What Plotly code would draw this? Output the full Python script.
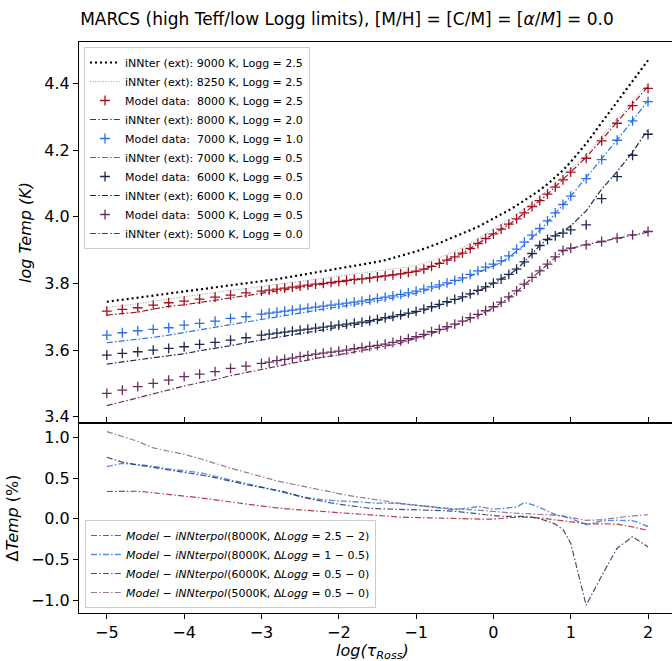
import plotly.graph_objects as go

TAU = [-5.0, -4.8, -4.6, -4.4, -4.2, -4.0, -3.8, -3.6, -3.4, -3.2, -3.0,
       -2.9, -2.8, -2.7, -2.6, -2.5, -2.4, -2.3, -2.2, -2.1, -2.0,
       -1.9, -1.8, -1.7, -1.6, -1.5, -1.4, -1.3, -1.2, -1.1, -1.0,
       -0.9, -0.8, -0.7, -0.6, -0.5, -0.4, -0.3, -0.2, -0.1, 0.0,
       0.1, 0.2, 0.3, 0.4, 0.5, 0.6, 0.7, 0.8, 0.9, 1.0,
       1.2, 1.4, 1.6, 1.8, 2.0]

INN_9000_25 = [3.745, 3.751, 3.757, 3.763, 3.769, 3.775, 3.781, 3.787, 3.793, 3.799, 3.806,
               3.810, 3.813, 3.817, 3.821, 3.825, 3.828, 3.832, 3.836, 3.840, 3.843,
               3.847, 3.851, 3.855, 3.860, 3.865, 3.870, 3.876, 3.882, 3.889, 3.896,
               3.904, 3.912, 3.921, 3.931, 3.940, 3.950, 3.960, 3.970, 3.982, 3.994,
               4.007, 4.020, 4.034, 4.049, 4.064, 4.080, 4.098, 4.118, 4.140, 4.165,
               4.220, 4.283, 4.346, 4.408, 4.470]
INN_8250_25 = [3.728, 3.733, 3.739, 3.747, 3.754, 3.760, 3.766, 3.773, 3.779, 3.786, 3.791,
               3.794, 3.797, 3.800, 3.804, 3.807, 3.810, 3.813, 3.815, 3.818, 3.821,
               3.824, 3.827, 3.830, 3.833, 3.836, 3.839, 3.842, 3.846, 3.850, 3.854,
               3.860, 3.868, 3.877, 3.887, 3.897, 3.908, 3.921, 3.936, 3.951, 3.964,
               3.978, 3.992, 4.008, 4.025, 4.043, 4.061, 4.080, 4.100, 4.121, 4.144,
               4.188, 4.240, 4.294, 4.348, 4.401]
MOD_8000_25 = [3.717, 3.722, 3.727, 3.735, 3.742, 3.747, 3.753, 3.759, 3.765, 3.772, 3.777,
               3.780, 3.783, 3.786, 3.789, 3.792, 3.795, 3.798, 3.800, 3.803, 3.806,
               3.809, 3.812, 3.814, 3.817, 3.820, 3.823, 3.826, 3.829, 3.833, 3.837,
               3.843, 3.851, 3.860, 3.870, 3.880, 3.891, 3.905, 3.920, 3.935, 3.949,
               3.963, 3.978, 3.994, 4.012, 4.031, 4.049, 4.068, 4.089, 4.111, 4.134,
               4.176, 4.228, 4.281, 4.334, 4.386]
INN_8000_20 = [3.705, 3.709, 3.714, 3.723, 3.731, 3.736, 3.743, 3.750, 3.757, 3.765, 3.771,
               3.775, 3.778, 3.781, 3.785, 3.788, 3.791, 3.794, 3.797, 3.800, 3.803,
               3.806, 3.810, 3.812, 3.815, 3.819, 3.822, 3.825, 3.828, 3.832, 3.836,
               3.842, 3.851, 3.860, 3.870, 3.880, 3.891, 3.905, 3.920, 3.935, 3.949,
               3.963, 3.977, 3.993, 4.011, 4.030, 4.049, 4.068, 4.090, 4.112, 4.135,
               4.179, 4.231, 4.284, 4.338, 4.392]
MOD_7000_10 = [3.645, 3.652, 3.658, 3.662, 3.667, 3.675, 3.680, 3.687, 3.695, 3.700, 3.708,
               3.711, 3.714, 3.717, 3.720, 3.723, 3.726, 3.729, 3.732, 3.735, 3.738,
               3.741, 3.744, 3.747, 3.751, 3.755, 3.759, 3.763, 3.767, 3.772, 3.777,
               3.783, 3.790, 3.796, 3.802, 3.809, 3.817, 3.827, 3.838, 3.849, 3.858,
               3.868, 3.883, 3.903, 3.924, 3.945, 3.965, 3.988, 4.012, 4.037, 4.062,
               4.115, 4.172, 4.230, 4.288, 4.346]
INN_7000_05 = [3.622, 3.627, 3.634, 3.638, 3.645, 3.653, 3.659, 3.668, 3.677, 3.684, 3.693,
               3.697, 3.701, 3.705, 3.709, 3.713, 3.716, 3.720, 3.723, 3.727, 3.730,
               3.733, 3.736, 3.740, 3.744, 3.748, 3.752, 3.756, 3.760, 3.765, 3.771,
               3.777, 3.785, 3.791, 3.797, 3.805, 3.812, 3.822, 3.832, 3.844, 3.853,
               3.863, 3.878, 3.897, 3.916, 3.938, 3.959, 3.984, 4.010, 4.036, 4.062,
               4.118, 4.173, 4.231, 4.289, 4.350]
MOD_6000_05 = [3.585, 3.590, 3.595, 3.600, 3.605, 3.610, 3.617, 3.623, 3.630, 3.637, 3.645,
               3.648, 3.651, 3.654, 3.657, 3.660, 3.663, 3.666, 3.669, 3.672, 3.675,
               3.678, 3.681, 3.684, 3.688, 3.692, 3.697, 3.701, 3.706, 3.711, 3.716,
               3.723, 3.730, 3.737, 3.745, 3.752, 3.760, 3.769, 3.779, 3.790, 3.801,
               3.813, 3.827, 3.843, 3.865, 3.890, 3.914, 3.932, 3.943, 3.951, 3.961,
               3.976, 4.055, 4.121, 4.185, 4.248]
INN_6000_00 = [3.558, 3.565, 3.571, 3.577, 3.583, 3.589, 3.598, 3.605, 3.613, 3.622, 3.631,
               3.635, 3.638, 3.642, 3.646, 3.650, 3.654, 3.658, 3.661, 3.665, 3.668,
               3.672, 3.676, 3.679, 3.683, 3.687, 3.692, 3.697, 3.702, 3.707, 3.712,
               3.719, 3.726, 3.733, 3.741, 3.749, 3.757, 3.766, 3.777, 3.788, 3.800,
               3.812, 3.826, 3.842, 3.864, 3.889, 3.914, 3.933, 3.946, 3.956, 3.973,
               4.018, 4.083, 4.136, 4.194, 4.263]
MOD_5000_05 = [3.470, 3.480, 3.490, 3.500, 3.510, 3.520, 3.528, 3.535, 3.545, 3.552, 3.560,
               3.564, 3.568, 3.572, 3.576, 3.580, 3.584, 3.588, 3.591, 3.594, 3.597,
               3.600, 3.604, 3.607, 3.611, 3.614, 3.618, 3.623, 3.628, 3.634, 3.640,
               3.647, 3.655, 3.662, 3.670, 3.678, 3.687, 3.697, 3.707, 3.718, 3.730,
               3.744, 3.760, 3.778, 3.798, 3.818, 3.838, 3.858, 3.880, 3.899, 3.906,
               3.916, 3.926, 3.936, 3.946, 3.956]
INN_5000_00 = [3.433, 3.445, 3.457, 3.470, 3.481, 3.492, 3.502, 3.511, 3.523, 3.532, 3.542,
               3.547, 3.551, 3.556, 3.561, 3.565, 3.570, 3.575, 3.578, 3.582, 3.586,
               3.590, 3.594, 3.598, 3.602, 3.606, 3.610, 3.616, 3.621, 3.628, 3.634,
               3.641, 3.650, 3.657, 3.665, 3.674, 3.683, 3.693, 3.703, 3.714, 3.727,
               3.741, 3.757, 3.775, 3.796, 3.816, 3.836, 3.856, 3.878, 3.898, 3.905,
               3.917, 3.926, 3.935, 3.945, 3.954]

DIFF_8000_A = [0.335, 0.340, 0.338, 0.320, 0.302, 0.282, 0.258, 0.232, 0.205, 0.178, 0.155,
               0.145, 0.135, 0.122, 0.115, 0.110, 0.103, 0.097, 0.091, 0.085, 0.077,
               0.068, 0.060, 0.050, 0.044, 0.038, 0.032, 0.026, 0.021, 0.018, 0.015,
               0.012, 0.010, 0.008, 0.006, 0.004, 0.001, -0.002, -0.004, -0.005, -0.004,
               0.005, 0.015, 0.020, 0.021, 0.020, 0.012, 0.000, -0.013, -0.022, -0.035,
               -0.060, -0.062, -0.065, -0.100, -0.143]
DIFF_8000_B = [0.640, 0.680, 0.665, 0.645, 0.610, 0.590, 0.567, 0.520, 0.477, 0.437, 0.395,
               0.370, 0.345, 0.318, 0.292, 0.275, 0.258, 0.244, 0.232, 0.226, 0.220,
               0.215, 0.210, 0.200, 0.192, 0.192, 0.195, 0.193, 0.190, 0.180, 0.168,
               0.155, 0.140, 0.130, 0.122, 0.112, 0.120, 0.135, 0.150, 0.135, 0.118,
               0.125, 0.138, 0.145, 0.198, 0.175, 0.140, 0.095, 0.050, 0.030, 0.005,
               -0.073, -0.025, -0.018, -0.022, -0.094]
DIFF_6000 = [0.755, 0.695, 0.660, 0.630, 0.605, 0.575, 0.540, 0.505, 0.460, 0.420, 0.385,
             0.370, 0.350, 0.330, 0.300, 0.275, 0.250, 0.230, 0.210, 0.195, 0.180,
             0.165, 0.150, 0.135, 0.128, 0.124, 0.122, 0.120, 0.118, 0.116, 0.113,
             0.110, 0.106, 0.102, 0.098, 0.092, 0.084, 0.074, 0.062, 0.050, 0.038,
             0.032, 0.030, 0.030, 0.029, 0.020, 0.000, -0.030, -0.065, -0.130, -0.300,
             -1.060, -0.700, -0.360, -0.220, -0.345]
DIFF_5000 = [1.070, 1.010, 0.950, 0.870, 0.830, 0.790, 0.740, 0.680, 0.620, 0.570, 0.515,
             0.492, 0.465, 0.445, 0.425, 0.408, 0.390, 0.370, 0.350, 0.330, 0.310,
             0.290, 0.275, 0.260, 0.245, 0.230, 0.218, 0.205, 0.190, 0.175, 0.165,
             0.155, 0.145, 0.135, 0.128, 0.122, 0.117, 0.112, 0.110, 0.100, 0.090,
             0.080, 0.072, 0.068, 0.064, 0.060, 0.055, 0.050, 0.045, 0.035, 0.015,
             -0.020, -0.010, 0.015, 0.035, 0.050]

TOP_NAMES = ["iNNter (ext): 9000 K, Logg = 2.5",
             "iNNter (ext): 8250 K, Logg = 2.5",
             "Model data:\u00a0 8000 K, Logg = 2.5",
             "iNNter (ext): 8000 K, Logg = 2.0",
             "Model data:\u00a0 7000 K, Logg = 1.0",
             "iNNter (ext): 7000 K, Logg = 0.5",
             "Model data:\u00a0 6000 K, Logg = 0.5",
             "iNNter (ext): 6000 K, Logg = 0.0",
             "Model data:\u00a0 5000 K, Logg = 0.5",
             "iNNter (ext): 5000 K, Logg = 0.0"]
BOT_NAMES = ["<i>Model</i> \u2212 <i>iNNterpol</i>(8000K, \u0394<i>Logg</i> = 2.5 \u2212 2)",
             "<i>Model</i> \u2212 <i>iNNterpol</i>(8000K, \u0394<i>Logg</i> = 1 \u2212 0.5)",
             "<i>Model</i> \u2212 <i>iNNterpol</i>(6000K, \u0394<i>Logg</i> = 0.5 \u2212 0)",
             "<i>Model</i> \u2212 <i>iNNterpol</i>(5000K, \u0394<i>Logg</i> = 0.5 \u2212 0)"]
X_TITLE = "<i>log(\u03c4<sub>Ross</sub>)</i>"

RED = "#a50f1e"
BLUE = "#2a6fe8"
NAVY = "#1b2a4c"
PURPLE = "#6b2b5c"
DASHDOT = "6px,2.2px,1.5px,2.2px"

fig = go.Figure()

def line(y, name, color, dash, width, legend="legend", yaxis="y2", xaxis="x2", opacity=1.0):
    fig.add_trace(go.Scatter(x=TAU, y=y, name=name, mode="lines", xaxis=xaxis, yaxis=yaxis,
                             legend=legend, opacity=opacity,
                             line=dict(color=color, dash=dash, width=width)))

def marks(y, name, color):
    fig.add_trace(go.Scatter(x=TAU, y=y, name=name, mode="markers", xaxis="x2", yaxis="y2",
                             legend="legend",
                             marker=dict(symbol="cross-thin", size=7, color=color,
                                         line=dict(width=1.3, color=color))))

line(INN_9000_25, TOP_NAMES[0], "#000000", "2px,3px", 2.2)
line(INN_8250_25, TOP_NAMES[1], "#9a9a9a", "1px,1.6px", 1.0)
marks(MOD_8000_25, TOP_NAMES[2], RED)
line(INN_8000_20, TOP_NAMES[3], RED, DASHDOT, 1.2)
marks(MOD_7000_10, TOP_NAMES[4], BLUE)
line(INN_7000_05, TOP_NAMES[5], BLUE, DASHDOT, 1.2)
marks(MOD_6000_05, TOP_NAMES[6], NAVY)
line(INN_6000_00, TOP_NAMES[7], NAVY, DASHDOT, 1.2)
marks(MOD_5000_05, TOP_NAMES[8], PURPLE)
line(INN_5000_00, TOP_NAMES[9], PURPLE, DASHDOT, 1.2)

line(DIFF_8000_A, BOT_NAMES[0], RED, DASHDOT, 1.2, legend="legend2", yaxis="y", xaxis="x", opacity=0.8)
line(DIFF_8000_B, BOT_NAMES[1], BLUE, DASHDOT, 1.4, legend="legend2", yaxis="y", xaxis="x", opacity=0.8)
line(DIFF_6000, BOT_NAMES[2], NAVY, DASHDOT, 1.2, legend="legend2", yaxis="y", xaxis="x", opacity=0.8)
line(DIFF_5000, BOT_NAMES[3], PURPLE, DASHDOT, 1.2, legend="legend2", yaxis="y", xaxis="x", opacity=0.65)

FONT = "DejaVu Sans"
split = 190 / 571

axis_common = dict(showgrid=False, zeroline=False, showline=True, linecolor="black", linewidth=1,
                   ticks="outside", ticklen=5, tickwidth=1, tickcolor="black",
                   tickfont=dict(family=FONT, size=16, color="black"))

fig.update_layout(
    width=672, height=661, autosize=False,
    margin=dict(l=79, r=0, t=42, b=48),
    plot_bgcolor="white", paper_bgcolor="white",
    font=dict(family=FONT, color="black"),
    title=dict(text="MARCS (high Teff/low Logg limits), [M/H] = [C/M] = [<i>\u03b1</i>/<i>M</i>] = 0.0",
               x=(347 - 79) / 593, xref="paper", xanchor="center",
               y=1 - 19 / 661, yref="container", yanchor="middle",
               font=dict(family=FONT, size=17, color="black")),
    xaxis=dict(axis_common, domain=[0, 1], anchor="y", range=[-5.36, 2.31],
               tickvals=[-5, -4, -3, -2, -1, 0, 1, 2], mirror="ticks"),
    yaxis=dict(axis_common, domain=[0, split], anchor="x", range=[-1.155, 1.175],
               tickvals=[-1.0, -0.5, 0.0, 0.5, 1.0], tickformat=".1f",
               title=dict(text="\u0394<i>Temp</i> (%)", standoff=8,
                          font=dict(family=FONT, size=16))),
    xaxis2=dict(axis_common, domain=[0, 1], anchor="y2", matches="x", range=[-5.36, 2.31],
                showticklabels=False, ticks="", mirror=True),
    yaxis2=dict(axis_common, domain=[split, 1], anchor="x2", range=[3.381, 4.525],
                tickvals=[3.4, 3.6, 3.8, 4.0, 4.2, 4.4], tickformat=".1f",
                title=dict(text="<i>log Temp (K)</i>", standoff=8,
                           font=dict(family=FONT, size=16))),
    legend=dict(x=(84 - 79) / 593, y=(613 - 47) / 571, xanchor="left", yanchor="top",
                bgcolor="rgba(255,255,255,0.85)", bordercolor="#cccccc", borderwidth=1,
                font=dict(family=FONT, size=11, color="black"), itemwidth=30,
                tracegroupgap=0),
    legend2=dict(x=(85 - 79) / 593, y=(613 - 608) / 571, xanchor="left", yanchor="bottom",
                 bgcolor="rgba(255,255,255,0.85)", bordercolor="#cccccc", borderwidth=1,
                 font=dict(family=FONT, size=11, color="black"), itemwidth=30,
                 tracegroupgap=0),
    annotations=[dict(text=X_TITLE, xref="paper", yref="paper", x=0.495, y=-(651 - 613) / 571,
                      xanchor="center", yanchor="middle", showarrow=False,
                      font=dict(family=FONT, size=16, color="black"))],
)

fig.write_html("out.html")
